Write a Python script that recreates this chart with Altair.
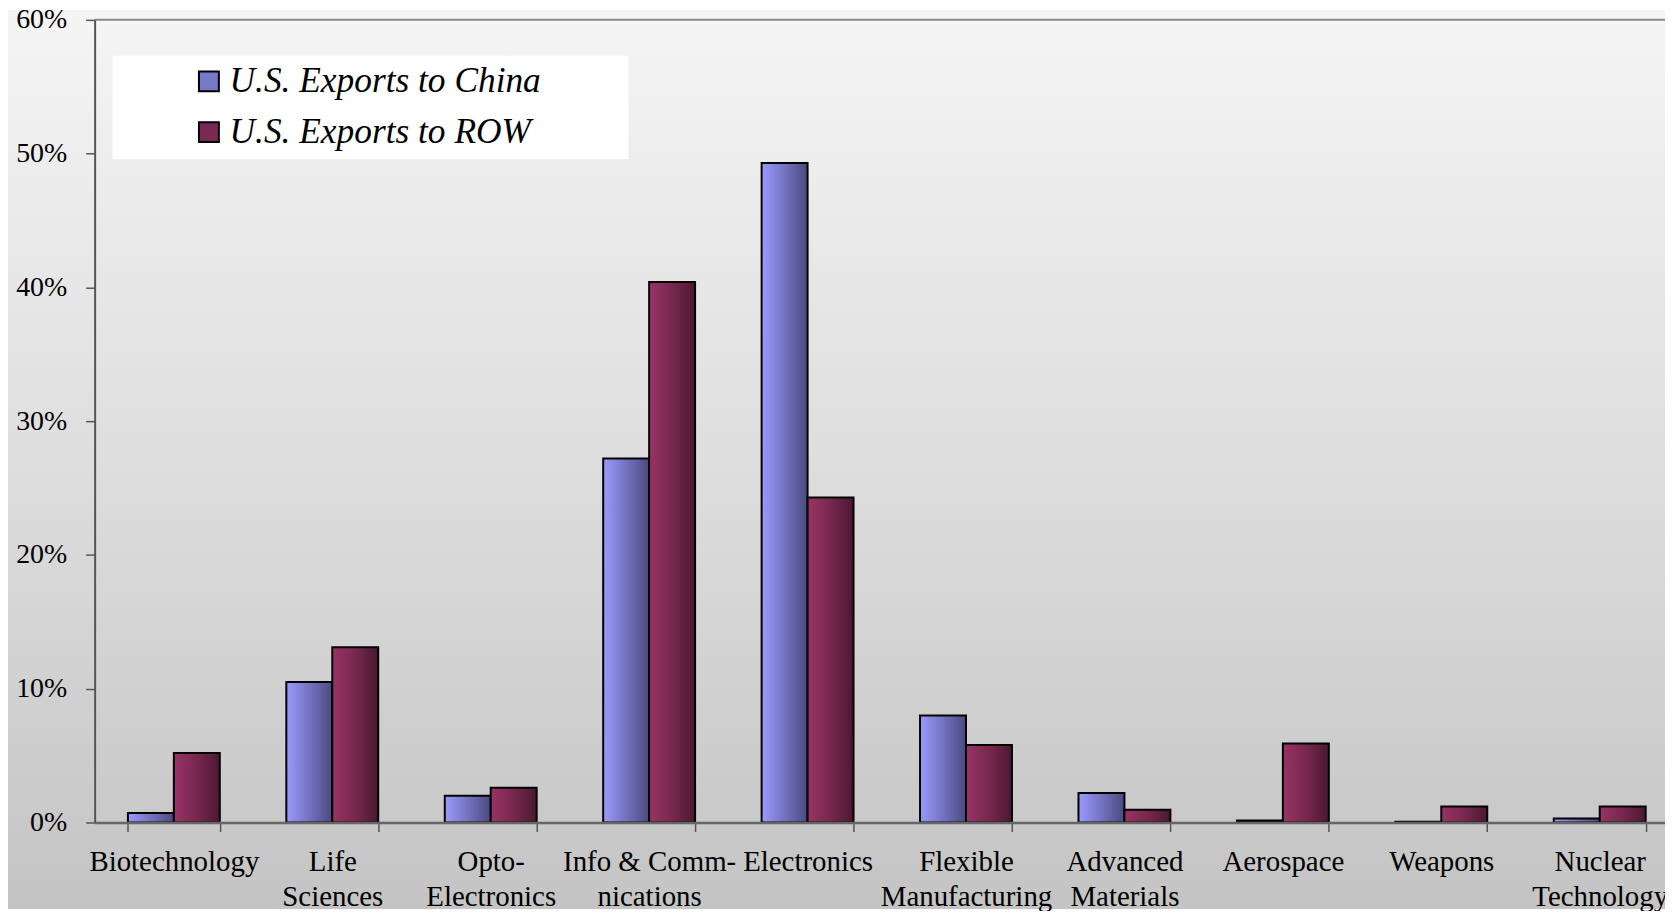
import altair as alt
import pandas as pd

categories = ["Biotechnology", "Life|Sciences", "Opto-|Electronics", "Info & Comm-|nications",
              "Electronics", "Flexible|Manufacturing", "Advanced|Materials", "Aerospace",
              "Weapons", "Nuclear|Technology"]
series = ["U.S. Exports to China", "U.S. Exports to ROW"]
china = [0.7, 10.5, 2.0, 27.2, 49.3, 8.0, 2.2, 0.15, 0.05, 0.3]
row = [5.2, 13.1, 2.6, 40.4, 24.3, 5.8, 0.95, 5.9, 1.2, 1.2]
y_ticks = [0, 10, 20, 30, 40, 50, 60]

rows = []
for c, a, b in zip(categories, china, row):
    rows.append({"category": c, "series": series[0], "value": a})
    rows.append({"category": c, "series": series[1], "value": b})
df = pd.DataFrame(rows)

W, H = 1591, 806
PL, PT, PR, PB = 87, 10, -14, 87


def grad(c0, c1, c2, vertical=False):
    d = {"gradient": "linear", "x1": 0, "y1": 0,
         "x2": 0 if vertical else 1, "y2": 1 if vertical else 0,
         "stops": [{"offset": 0, "color": c0}, {"offset": 0.5, "color": c1},
                   {"offset": 1, "color": c2}]}
    return d


china_grad = grad("#9a9aff", "#7373c0", "#4a4a7e")
row_grad = grad("#993366", "#77284f", "#4a1831")
bg_grad = grad("#f5f5f5", "#dedede", "#c4c4c4", vertical=True)

font = "Liberation Serif"

bg = alt.Chart(pd.DataFrame({"d": [0]})).mark_rect(fill=bg_grad).encode(
    x=alt.value(-PL), x2=alt.value(W + 10), y=alt.value(-PT), y2=alt.value(H + PB)
)

xaxis = alt.Axis(title=None, labelExpr="split(datum.label, '|')", labelAngle=0,
                 labelFont=font, labelFontSize=29, labelColor="black",
                 labelBaseline="top", labelLineHeight=35, labelPadding=16,
                 tickBand="extent", tickSize=9, tickColor="#555555", tickWidth=1.5,
                 domainColor="#666666", domainWidth=2.5, zindex=1,
                 labelOverlap=False, labelBound=False, labelFlush=False, labelLimit=0)
yaxis = alt.Axis(title=None, values=y_ticks, labelExpr="datum.value + '%'",
                 labelFont=font, labelFontSize=28, labelColor="black",
                 tickSize=9, labelPadding=19, tickColor="#555555", tickWidth=1.5,
                 domainColor="#555555", domainWidth=2, grid=False, zindex=1)

xenc = alt.X("category:N", sort=categories,
             scale=alt.Scale(domain=categories, paddingInner=0.42, paddingOuter=0.21),
             axis=xaxis)
xoff = alt.XOffset("series:N", scale=alt.Scale(domain=series))
yenc = alt.Y("value:Q", scale=alt.Scale(domain=[0, 60], nice=False), axis=yaxis)


def bar_layer(name, g):
    return alt.Chart(df).transform_filter(alt.datum.series == name).mark_bar(
        fill=g, stroke="black", strokeWidth=2
    ).encode(x=xenc, xOffset=xoff, y=yenc)


top_rule = alt.Chart(pd.DataFrame({"v": [60]})).mark_rule(
    color="#8a8a8a", strokeWidth=2
).encode(y=alt.Y("v:Q"))

pad = "\u00a0" * 9 + "\u200b"
legend = alt.Legend(
    title=None, orient="none", legendX=18, legendY=36, fillColor="white",
    padding=8, symbolType="square", symbolSize=400, symbolStrokeColor="black",
    symbolStrokeWidth=2, symbolOpacity=1, symbolOffset=71,
    labelFont=font, labelFontStyle="italic", labelFontSize=35.5, labelColor="black",
    labelOffset=3, rowPadding=14, labelLimit=0, zindex=1,
    labelExpr="datum.label + '" + pad + "'",
)

legend_layer = alt.Chart(df).mark_square(opacity=0, size=1).encode(
    x=xenc, y=yenc,
    color=alt.Color("series:N", scale=alt.Scale(domain=series, range=["#7878c8", "#7a2a52"]),
                    legend=legend),
)

chart = alt.layer(bg, top_rule, bar_layer(series[0], china_grad),
                  bar_layer(series[1], row_grad), legend_layer).properties(
    width=W, height=H,
    autosize=alt.AutoSizeParams(type="none"),
    padding={"left": PL, "top": PT, "right": PR, "bottom": PB},
).configure_view(stroke=None)

chart.save("out.html", embed_options={"renderer": "svg", "actions": False})
